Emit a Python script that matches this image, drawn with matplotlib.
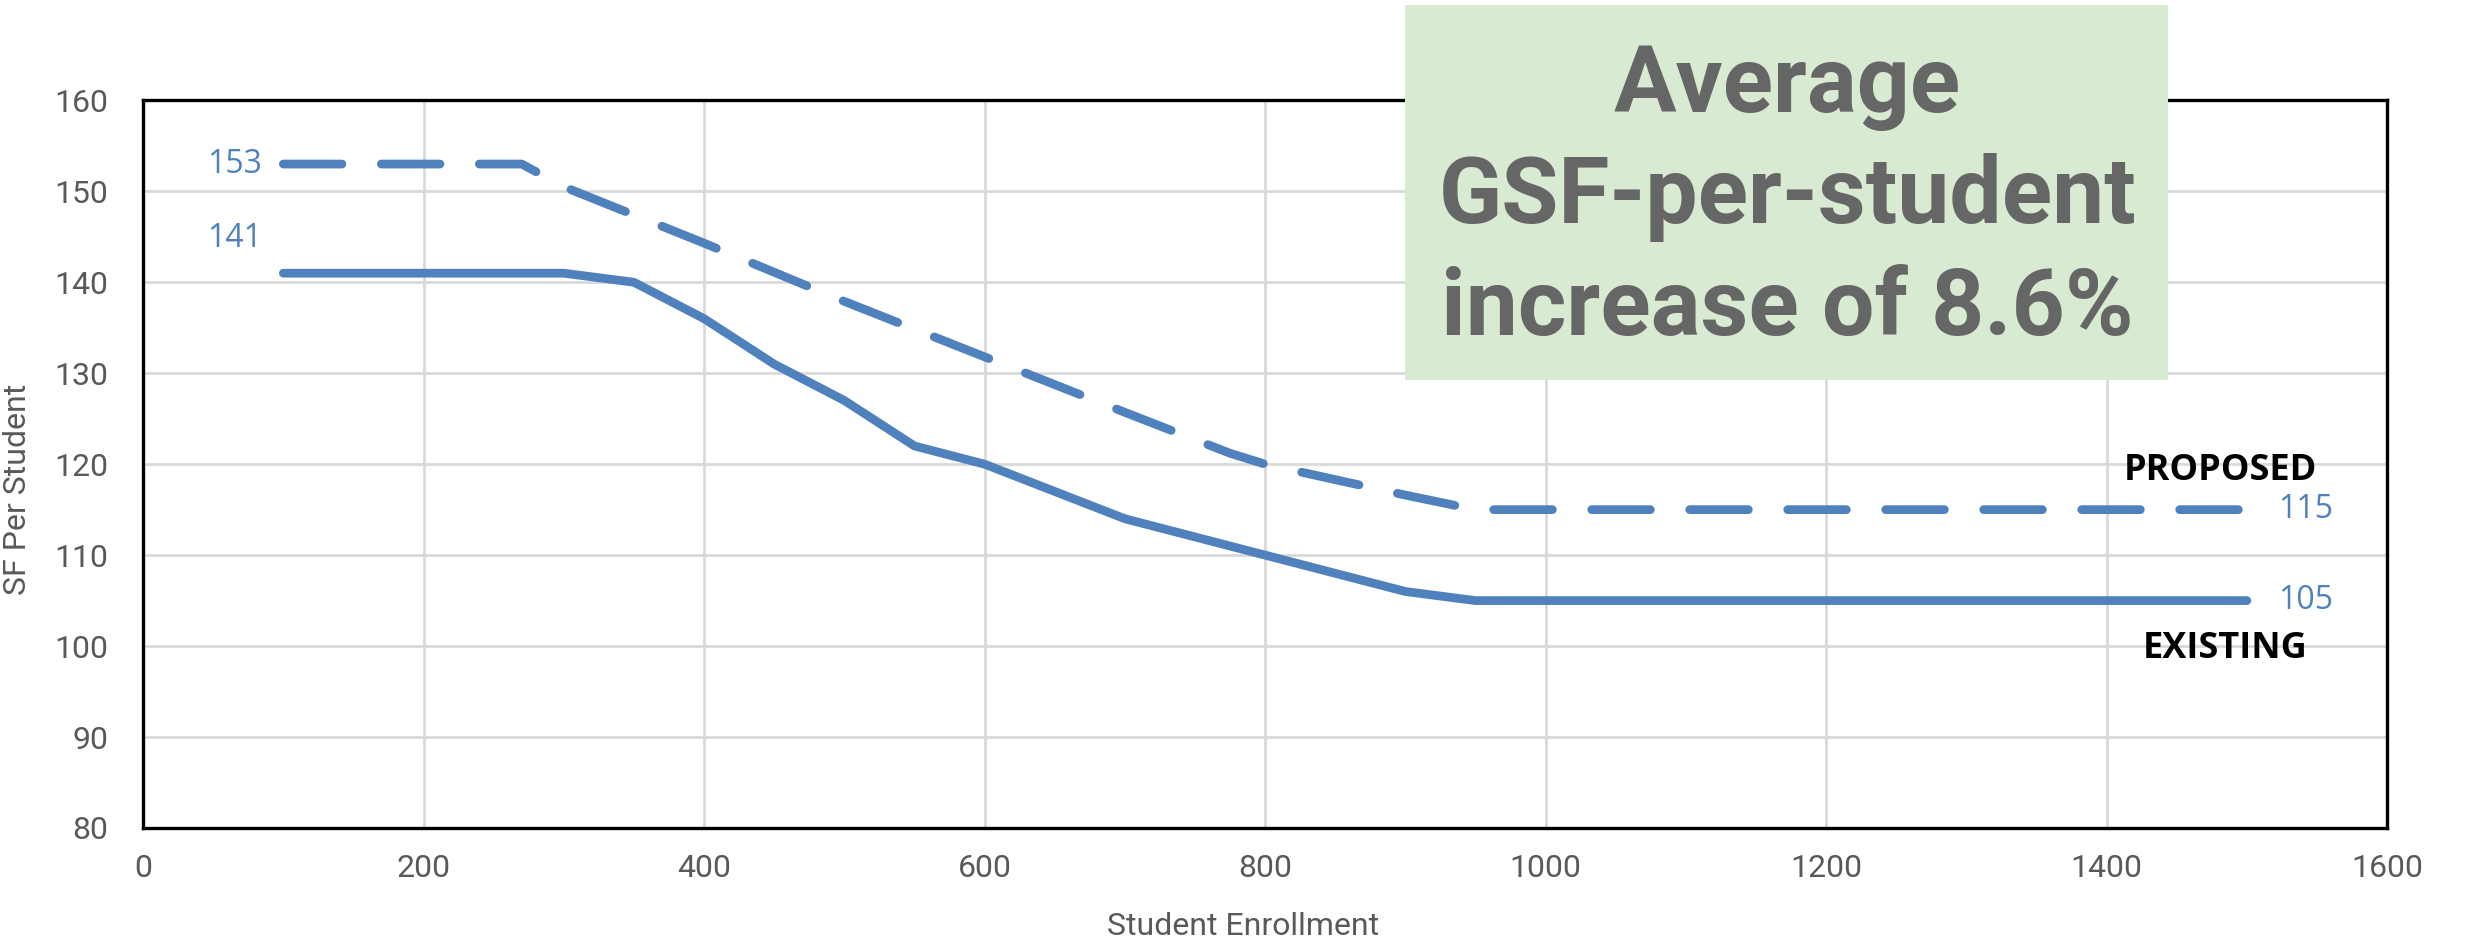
import matplotlib
matplotlib.use('Agg')
import matplotlib.pyplot as plt
from matplotlib.patches import Rectangle

# enrollment vs square feet per student
existing_x = [100, 300, 350, 400, 450, 500, 550, 600, 700, 800, 900, 950, 1500]
existing_y = [141, 141, 140, 136, 131, 127, 122, 120, 114, 110, 106, 105, 105]
proposed_x = [100, 270, 300, 400, 500, 600, 700, 775, 800, 900, 950, 1500]
proposed_y = [153, 153, 150.5, 144.3, 137.9, 131.8, 125.7, 121.2, 120, 116.6, 115, 115]

x_ticks = [0, 200, 400, 600, 800, 1000, 1200, 1400, 1600]
y_ticks = [80, 90, 100, 110, 120, 130, 140, 150, 160]

callout_lines = ['Average', 'GSF-per-student', 'increase of 8.6%']

blue = '#4f81bd'
grey = '#595959'
tick_font = ['Roboto', 'DejaVu Sans']
label_font = ['Open Sans', 'DejaVu Sans']

fig = plt.figure(figsize=(24.84, 9.47), dpi=100)
ax = fig.add_axes([0.0576, 0.1257, 0.9034, 0.7683])

ax.plot(existing_x, existing_y, color=blue, lw=6.3, solid_capstyle='round', solid_joinstyle='round', zorder=3)
ax.plot(proposed_x, proposed_y, color=blue, lw=6.3, dashes=(6.7, 4.5), dash_capstyle='round', dash_joinstyle='round', zorder=3)

ax.set_xlim(0, 1600)
ax.set_ylim(80, 160)
ax.set_xticks(x_ticks)
ax.set_yticks(y_ticks)
ax.grid(True, color='#d9d9d9', lw=2)
ax.set_axisbelow(True)
for s in ax.spines.values():
    s.set_color('black')
    s.set_linewidth(2.4)
ax.tick_params(length=0, labelsize=23, labelcolor=grey)
ax.tick_params(axis='x', pad=19)
ax.tick_params(axis='y', pad=25)
for t in ax.get_xticklabels() + ax.get_yticklabels():
    t.set_family(tick_font)

ax.set_xlabel('Student Enrollment', fontsize=23, color=grey, family=tick_font, va='center')
ax.set_ylabel('SF Per Student', fontsize=23, color=grey, family=tick_font, va='center')
ax.xaxis.set_label_coords(0.49, -0.136)
ax.yaxis.set_label_coords(-0.056, 0.465)

# end-point values
ax.text(85, proposed_y[0], f'{proposed_y[0]:.0f}', color=blue, fontsize=23,
        family=label_font, ha='right', va='center')
ax.text(85, existing_y[0] + 3.8, f'{existing_y[0]:.0f}', color=blue, fontsize=23,
        family=label_font, ha='right', va='center')
ax.text(1522, proposed_y[-1], f'{proposed_y[-1]:.0f}', color=blue, fontsize=23,
        family=label_font, ha='left', va='center')
ax.text(1522, existing_y[-1], f'{existing_y[-1]:.0f}', color=blue, fontsize=23,
        family=label_font, ha='left', va='center')

ax.text(1550, 119.3, 'PROPOSED', fontsize=26, fontweight='bold', family=label_font,
        ha='right', va='center', color='black')
ax.text(1543, 99.7, 'EXISTING', fontsize=26, fontweight='bold', family=label_font,
        ha='right', va='center', color='black')

# callout box over the top right
fig.add_artist(Rectangle((0.5656, 0.5987), 0.3072, 0.3960, transform=fig.transFigure,
                         facecolor='#d9ead3', edgecolor='none', zorder=5))
for line, y in zip(callout_lines, [0.8817, 0.7645, 0.6463]):
    fig.text(0.7195, y, line, fontsize=67, fontweight='bold', family=['Roboto', 'DejaVu Sans'],
             color='#666666', ha='center', va='baseline', zorder=6)

fig.savefig('out.png', dpi=100)
